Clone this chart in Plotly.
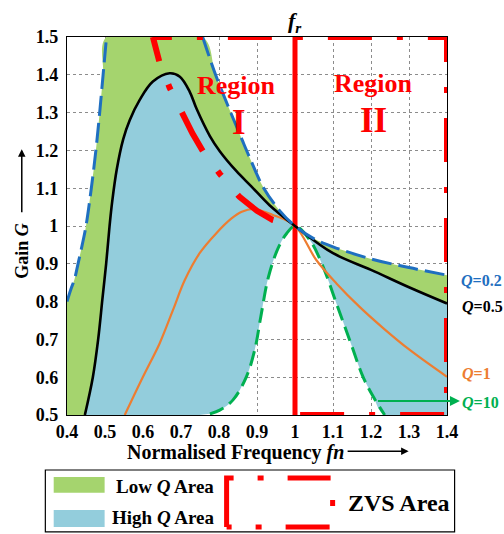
import plotly.graph_objects as go

# ---------------- data ----------------
X_RANGE = [0.4, 1.4]
Y_RANGE = [0.5, 1.5]
X_TICKS = [0.4, 0.5, 0.6, 0.7, 0.8, 0.9, 1.0, 1.1, 1.2, 1.3, 1.4]
X_TICKTEXT = ["0.4", "0.5", "0.6", "0.7", "0.8", "0.9", "1", "1.1", "1.2", "1.3", "1.4"]
Y_TICKS = [0.5, 0.6, 0.7, 0.8, 0.9, 1.0, 1.1, 1.2, 1.3, 1.4, 1.5]
Y_TICKTEXT = ["0.5", "0.6", "0.7", "0.8", "0.9", "1", "1.1", "1.2", "1.3", "1.4", "1.5"]

# Q = 0.2 (left branch rises out of the plot, right branch comes back in)
Q02_LEFT_FN = [0.400, 0.410, 0.420, 0.429, 0.440, 0.450, 0.464, 0.476, 0.486, 0.495, 0.504]
Q02_LEFT_G = [0.800, 0.832, 0.860, 0.900, 0.950, 1.000, 1.100, 1.200, 1.300, 1.400, 1.500]
Q02_RIGHT_FN = [0.757, 0.791, 0.833, 0.862, 0.882, 0.915, 0.960, 1.000, 1.047, 1.100, 1.200, 1.300, 1.400]
Q02_RIGHT_G = [1.500, 1.400, 1.295, 1.225, 1.178, 1.105, 1.040, 1.000, 0.968, 0.945, 0.913, 0.890, 0.870]

# Q = 0.5
Q05_FN = [0.447, 0.468, 0.482, 0.493, 0.503, 0.512, 0.519, 0.531, 0.548, 0.565, 0.591, 0.626,
          0.670, 0.697, 0.723, 0.741, 0.776, 0.802, 0.846, 0.885, 0.933, 1.000, 1.100, 1.200,
          1.300, 1.400]
Q05_G = [0.500, 0.600, 0.700, 0.805, 0.900, 1.000, 1.065, 1.150, 1.230, 1.280, 1.333, 1.382,
         1.404, 1.395, 1.355, 1.310, 1.238, 1.198, 1.145, 1.105, 1.055, 1.000, 0.928, 0.884,
         0.838, 0.795]

# Q = 1
Q1_FN = [0.552, 0.600, 0.644, 0.679, 0.710, 0.749, 0.793, 0.833, 0.860, 0.890, 0.940, 1.000,
         1.056, 1.109, 1.170, 1.232, 1.302, 1.400]
Q1_G = [0.500, 0.601, 0.690, 0.778, 0.857, 0.928, 0.981, 1.020, 1.038, 1.045, 1.030, 1.000,
        0.910, 0.848, 0.786, 0.730, 0.672, 0.601]

# Q = 10
Q10_FN = [0.776, 0.802, 0.837, 0.872, 0.894, 0.910, 0.930, 0.955, 0.978, 1.000, 1.039, 1.074,
          1.109, 1.144, 1.179, 1.205, 1.236]
Q10_G = [0.503, 0.513, 0.540, 0.601, 0.672, 0.760, 0.865, 0.940, 0.980, 1.000, 0.963, 0.892,
         0.795, 0.698, 0.601, 0.550, 0.500]

# ZVS boundary curve (from the top edge down to the resonance point)
ZVS_FN = [0.626, 0.632, 0.644, 0.670, 0.701, 0.730, 0.758, 0.802, 0.854, 0.900, 0.941, 1.000]
ZVS_G = [1.500, 1.480, 1.431, 1.366, 1.299, 1.245, 1.197, 1.138, 1.077, 1.040, 1.016, 1.000]

FR = 1.0

# ---------------- styles ----------------
GREEN_FILL = "#A5D46E"
BLUE_FILL = "#93CDDC"
C_Q02 = "#1F6FC0"
C_Q05 = "#000000"
C_Q1 = "#ED7D31"
C_Q10 = "#00B050"
RED = "#FF0000"
SERIF = "Liberation Serif"
PERIOD = "44px,25px,6px,25px"
DASH_EDGE = "19px,25px,6px,25px," + ",".join([PERIOD] * 12)
DASH_CURVE = "25px,25px,6px,25px," + ",".join([PERIOD] * 6)
DASH_LEG = "56px,24px,6px,24px,43px,24px,6px,24px,44px,24px,6px,24px,44px,200px"

fig = go.Figure()


def hidden(x, y, fill=None, color=None):
    kw = dict(x=x, y=y, mode="lines", line=dict(width=0, shape="spline"),
              hoverinfo="skip", showlegend=False)
    if fill:
        kw.update(fill=fill, fillcolor=color)
    fig.add_trace(go.Scatter(**kw))


# Low Q area: between Q=0.5 (extended to the left corner) and Q=0.2
hidden([X_RANGE[0]] + Q05_FN, [Y_RANGE[0]] + Q05_G)
hidden(Q02_LEFT_FN + Q02_RIGHT_FN, Q02_LEFT_G + Q02_RIGHT_G, "tonexty", GREEN_FILL)

# High Q area: between Q=10 (extended along the bottom) and Q=0.5
hidden([X_RANGE[0]] + Q10_FN + [X_RANGE[1]], [Y_RANGE[0]] + Q10_G + [Y_RANGE[0]])
hidden(Q05_FN, Q05_G, "tonexty", BLUE_FILL)

# fr vertical line
fig.add_trace(go.Scatter(x=[FR, FR], y=Y_RANGE, mode="lines",
                         line=dict(color=RED, width=5), cliponaxis=False,
                         hoverinfo="skip", showlegend=False))

# curves
fig.add_trace(go.Scatter(x=Q10_FN, y=Q10_G, mode="lines",
                         line=dict(color=C_Q10, width=3, dash="15px,7px", shape="spline"),
                         showlegend=False))
fig.add_trace(go.Scatter(x=Q1_FN, y=Q1_G, mode="lines",
                         line=dict(color=C_Q1, width=2.2, shape="spline"), showlegend=False))
fig.add_trace(go.Scatter(x=Q05_FN, y=Q05_G, mode="lines",
                         line=dict(color=C_Q05, width=2.6, shape="spline"), showlegend=False))
fig.add_trace(go.Scatter(x=Q02_LEFT_FN + [None] + Q02_RIGHT_FN,
                         y=Q02_LEFT_G + [None] + Q02_RIGHT_G, mode="lines",
                         line=dict(color=C_Q02, width=3, dash="20px,7px", shape="spline"),
                         connectgaps=False, showlegend=False))

# ZVS boundary: edges of the region (top -> right -> bottom) and the curve
fig.add_trace(go.Scatter(x=[ZVS_FN[0], X_RANGE[1], X_RANGE[1], FR],
                         y=[Y_RANGE[1], Y_RANGE[1], Y_RANGE[0], Y_RANGE[0]], mode="lines",
                         line=dict(color=RED, width=6, dash=DASH_EDGE),
                         cliponaxis=False, hoverinfo="skip", showlegend=False))
fig.add_trace(go.Scatter(x=ZVS_FN, y=ZVS_G, mode="lines",
                         line=dict(color=RED, width=6, dash=DASH_CURVE),
                         cliponaxis=False, hoverinfo="skip", showlegend=False))

axis_common = dict(showline=True, linecolor="black", linewidth=1.2, mirror=True,
                   showgrid=True, gridcolor="#8c8c8c", gridwidth=1, griddash="3px,3px",
                   zeroline=False, ticks="", layer="below traces",
                   tickfont=dict(family=SERIF, size=18, color="black", weight="bold"))

fig.update_xaxes(range=X_RANGE, tickvals=X_TICKS, ticktext=X_TICKTEXT, **axis_common)
fig.update_yaxes(range=Y_RANGE, tickvals=Y_TICKS, ticktext=Y_TICKTEXT, ticklabelstandoff=4,
                 **axis_common)

ann = []


def txt(x, y, text, size, color="black", xref="paper", yref="paper", xanchor="center",
        yanchor="middle", angle=0):
    ann.append(dict(x=x, y=y, xref=xref, yref=yref, text=text, showarrow=False,
                    xanchor=xanchor, yanchor=yanchor, textangle=angle,
                    font=dict(family=SERIF, size=size, color=color, weight="bold")))


def arrow(x, y, ax, ay, color, width, yref="paper"):
    ann.append(dict(x=x, y=y, xref="paper", yref=yref, ax=ax, ay=ay, text=" ",
                    showarrow=True, arrowhead=2, arrowsize=1, arrowwidth=width,
                    arrowcolor=color, font=dict(size=2)))


# fr label
txt(FR, 1.04, "<i>f</i><sub><i>r</i></sub>", 22, xref="x")
# Region labels
txt(0.847, 1.373, "Region", 26, RED, xref="x", yref="y")
txt(0.852, 1.275, "I", 35, RED, xref="x", yref="y")
txt(1.207, 1.376, "Region", 26, RED, xref="x", yref="y")
txt(1.207, 1.278, "II", 35, RED, xref="x", yref="y")
# Q labels
txt(1.031, 0.857, "<i>Q</i>=0.2", 16, C_Q02, yref="y", xanchor="left")
txt(1.034, 0.786, "<i>Q</i>=0.5", 16, C_Q05, yref="y", xanchor="left")
txt(1.034, 0.611, "<i>Q</i>=1", 16, C_Q1, yref="y", xanchor="left")
txt(1.034, 0.534, "<i>Q</i>=10", 16, C_Q10, yref="y", xanchor="left")
arrow(1.034, 0.537, -84, 0, C_Q10, 2, yref="y")
# axis titles with arrows
txt(-0.119, 0.434, "Gain <i>G</i>", 18, angle=-90)
arrow(-0.119, 0.703, 0, 66, "black", 1.5)
txt(0.733, -0.1005, "Normalised Frequency <i>fn</i>", 20, xanchor="right")
arrow(0.899, -0.096, -63, 0, "black", 1.5)
# legend texts
txt(0.124, -0.188, "Low <i>Q</i> Area", 19, xanchor="left")
txt(0.112, -0.272, "High <i>Q</i> Area", 19, xanchor="left")
txt(0.734, -0.233, "ZVS Area", 24, xanchor="left")

LX0, LX1, LYT, LYB = 0.420, 0.699, -0.1667, -0.2963
shapes = [
    dict(type="rect", xref="paper", yref="paper", x0=-0.057, x1=1.020, y0=-0.309, y1=-0.1455,
         line=dict(color="black", width=1.2), fillcolor="white", layer="below"),
    dict(type="rect", xref="paper", yref="paper", x0=-0.035, x1=0.099, y0=-0.206, y1=-0.164,
         line=dict(width=0), fillcolor=GREEN_FILL),
    dict(type="rect", xref="paper", yref="paper", x0=-0.035, x1=0.099, y0=-0.296, y1=-0.251,
         line=dict(width=0), fillcolor=BLUE_FILL),
    dict(type="path", xref="paper", yref="paper",
         path=f"M {LX0},{LYB} L {LX0},{LYT} L {LX1},{LYT} L {LX1},{LYB} L {LX0},{LYB}",
         line=dict(color=RED, width=5, dash=DASH_LEG)),
]

fig.update_layout(width=504, height=534, margin=dict(l=67, r=57, t=37, b=119),
                  paper_bgcolor="white", plot_bgcolor="white", showlegend=False,
                  annotations=ann, shapes=shapes)

fig.write_html("out.html")
